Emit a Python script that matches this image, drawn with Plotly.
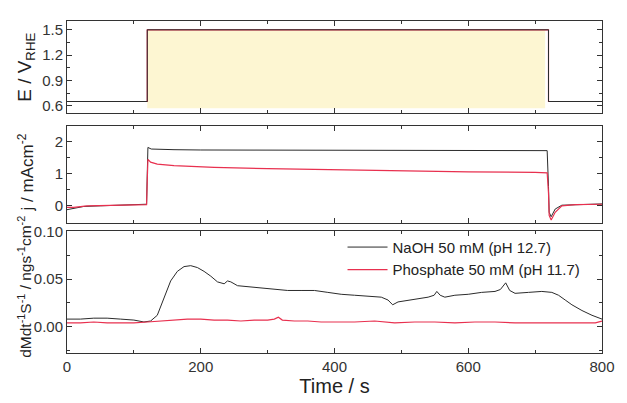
import plotly.graph_objects as go

# ---- potential programme (E vs time) ----
e_time = [0, 120, 120, 720, 720, 800]
e_naoh = [0.65, 0.65, 1.5, 1.5, 0.65, 0.65]
e_phos = [0.65, 0.65, 1.5, 1.5, 0.65, 0.65]
# shaded anodic-hold window
hold_x = [120, 715]
hold_y = [0.57, 1.5]

# ---- current density ----
j_naoh_t = [0, 10, 25, 50, 80, 110, 119, 120, 121, 126, 135, 160, 200, 300, 400,
            500, 600, 700, 718, 720, 721, 724, 730, 740, 760, 800]
j_naoh = [-0.12, -0.08, -0.02, 0.0, 0.02, 0.04, 0.05, 1.0, 1.82, 1.77, 1.76, 1.75,
          1.74, 1.74, 1.74, 1.73, 1.73, 1.72, 1.72, 0.6, -0.2, -0.34, -0.1, 0.02,
          0.04, 0.06]
j_phos_t = [0, 10, 30, 60, 100, 119, 120, 121, 125, 135, 160, 220, 300, 400, 500,
            600, 700, 718, 720, 721, 724, 730, 740, 760, 800]
j_phos = [-0.05, -0.05, 0.0, 0.01, 0.03, 0.04, 0.8, 1.45, 1.36, 1.30, 1.25, 1.20,
          1.16, 1.12, 1.09, 1.06, 1.04, 1.03, 0.4, -0.3, -0.44, -0.2, 0.0, 0.04, 0.05]

# ---- mass change rate ----
dm_naoh_t = [0, 20, 40, 60, 80, 100, 115, 125, 135, 145, 155, 165, 175, 185, 195,
             205, 215, 225, 235, 240, 245, 255, 270, 290, 310, 330, 350, 370, 390,
             410, 430, 450, 470, 480, 487, 495, 505, 520, 540, 549, 553, 558, 565,
             580, 600, 620, 640, 648, 656, 662, 670, 690, 710, 725, 735, 745, 755,
             770, 785, 800]
dm_naoh = [0.008, 0.008, 0.009, 0.009, 0.008, 0.007, 0.005, 0.006, 0.012, 0.030,
           0.048, 0.058, 0.063, 0.064, 0.062, 0.058, 0.053, 0.047, 0.045, 0.048,
           0.047, 0.043, 0.042, 0.041, 0.039, 0.038, 0.038, 0.038, 0.036, 0.034,
           0.033, 0.032, 0.031, 0.028, 0.023, 0.026, 0.027, 0.029, 0.031, 0.033,
           0.037, 0.033, 0.031, 0.033, 0.034, 0.036, 0.037, 0.039, 0.046, 0.038,
           0.035, 0.036, 0.037, 0.036, 0.033, 0.028, 0.023, 0.017, 0.012, 0.008]
dm_phos_t = [0, 20, 40, 60, 80, 100, 120, 140, 160, 180, 200, 220, 240, 260, 280,
             300, 310, 316, 322, 340, 360, 380, 400, 430, 460, 490, 520, 550, 580,
             610, 640, 670, 700, 730, 760, 790, 800]
dm_phos = [0.004, 0.004, 0.005, 0.004, 0.004, 0.004, 0.005, 0.006, 0.007, 0.008,
           0.008, 0.007, 0.007, 0.006, 0.007, 0.007, 0.008, 0.010, 0.007, 0.006,
           0.006, 0.005, 0.005, 0.005, 0.006, 0.004, 0.005, 0.005, 0.004, 0.005,
           0.005, 0.004, 0.004, 0.004, 0.004, 0.004, 0.006]

names = ["NaOH 50 mM (pH 12.7)", "Phosphate 50 mM (pH 11.7)"]
x_ticks = [0, 200, 400, 600, 800]

BLACK = "#2b2b2b"
RED = "#e8304f"
FONT = "Liberation Sans, Arial, sans-serif"

fig = go.Figure()

# top panel
fig.add_trace(go.Scatter(x=e_time, y=e_phos, mode="lines", line=dict(color=RED, width=1.2),
                         xaxis="x", yaxis="y", showlegend=False))
fig.add_trace(go.Scatter(x=e_time, y=e_naoh, mode="lines", line=dict(color=BLACK, width=1),
                         xaxis="x", yaxis="y", showlegend=False))
# middle panel
fig.add_trace(go.Scatter(x=j_naoh_t, y=j_naoh, mode="lines", line=dict(color=BLACK, width=1),
                         xaxis="x2", yaxis="y2", showlegend=False))
fig.add_trace(go.Scatter(x=j_phos_t, y=j_phos, mode="lines", line=dict(color=RED, width=1.2),
                         xaxis="x2", yaxis="y2", showlegend=False))
# bottom panel
fig.add_trace(go.Scatter(x=dm_naoh_t, y=dm_naoh, mode="lines", name=names[0],
                         line=dict(color=BLACK, width=1), xaxis="x3", yaxis="y3"))
fig.add_trace(go.Scatter(x=dm_phos_t, y=dm_phos, mode="lines", name=names[1],
                         line=dict(color=RED, width=1.2), xaxis="x3", yaxis="y3"))

fig.add_shape(type="rect", xref="x", yref="y", x0=hold_x[0], x1=hold_x[1],
              y0=hold_y[0], y1=hold_y[1], fillcolor="#fdf6d2", line=dict(width=0),
              layer="below")

axis_common = dict(showline=True, linecolor="#333", linewidth=1, mirror="allticks",
                   ticks="inside", ticklen=5, tickcolor="#333", showgrid=False,
                   zeroline=False, tickfont=dict(family=FONT, size=15, color="#333"))

xcommon = dict(axis_common, range=[0, 800], tickvals=x_ticks,
               minor=dict(ticks="inside", ticklen=3, dtick=100, tick0=0, tickcolor="#333"))

fig.update_layout(
    width=627, height=403,
    margin=dict(l=67, r=16, t=16, b=46),
    paper_bgcolor="white", plot_bgcolor="white",
    font=dict(family=FONT, color="#333"),
    xaxis=dict(xcommon, domain=[0, 1], anchor="y", showticklabels=False),
    xaxis2=dict(xcommon, domain=[0, 1], anchor="y2", showticklabels=False, matches="x"),
    xaxis3=dict(xcommon, domain=[0, 1], anchor="y3", matches="x",
                title=dict(text="Time / s", font=dict(family=FONT, size=20, color="#222"),
                           standoff=2)),
    yaxis=dict(axis_common, domain=[0.7214, 1.0], anchor="x", range=[0.508, 1.604],
               tickvals=[0.6, 0.9, 1.2, 1.5],
               minor=dict(ticks="inside", ticklen=3, dtick=0.15, tick0=0.6, tickcolor="#333")),
    yaxis2=dict(axis_common, domain=[0.393, 0.683], anchor="x2", range=[-0.52, 2.48],
                tickvals=[0, 1, 2],
                minor=dict(ticks="inside", ticklen=3, dtick=0.5, tick0=0, tickcolor="#333")),
    yaxis3=dict(axis_common, domain=[0, 0.3666], anchor="x3", range=[-0.0275, 0.1],
                tickvals=[0.0, 0.05, 0.10], ticktext=["0.00", "0.05", "0.10"],
                minor=dict(ticks="inside", ticklen=3, dtick=0.025, tick0=0, tickcolor="#333")),
    legend=dict(x=0.515, y=0.368, xanchor="left", yanchor="top", bgcolor="rgba(0,0,0,0)",
                font=dict(family=FONT, size=15, color="#222"), tracegroupgap=0,
                itemwidth=40),
)

ytitle_font = dict(family=FONT, color="#222")
fig.add_annotation(text="E / V<sub>RHE</sub>", xref="paper", yref="paper",
                   x=-0.076, y=0.86, textangle=-90, showarrow=False,
                   xanchor="center", yanchor="middle",
                   font=dict(ytitle_font, size=19))
fig.add_annotation(text="j / mAcm<sup>-2</sup>", xref="paper", yref="paper",
                   x=-0.076, y=0.545, textangle=-90, showarrow=False,
                   xanchor="center", yanchor="middle",
                   font=dict(ytitle_font, size=17))
fig.add_annotation(text="dMdt<sup>-1</sup>S<sup>-1</sup> / ngs<sup>-1</sup>cm<sup>-2</sup>",
                   xref="paper", yref="paper", x=-0.08, y=0.2, textangle=-90,
                   showarrow=False, xanchor="center", yanchor="middle",
                   font=dict(ytitle_font, size=15.5))

fig.write_html("out.html")
